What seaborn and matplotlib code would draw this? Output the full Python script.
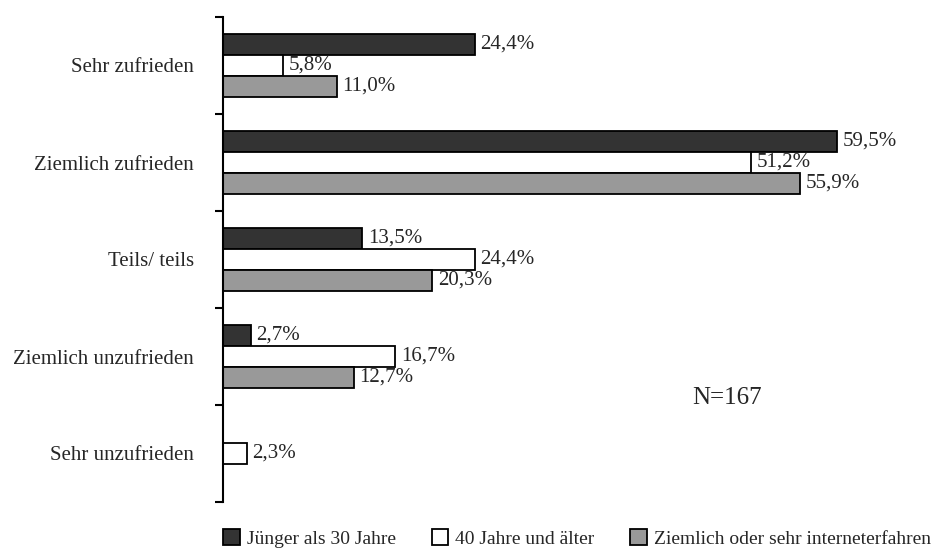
import numpy as np
import pandas as pd
import seaborn as sns
import matplotlib.pyplot as plt

# data
categories = ['Sehr zufrieden', 'Ziemlich zufrieden', 'Teils/ teils',
              'Ziemlich unzufrieden', 'Sehr unzufrieden']
series = ['Jünger als 30 Jahre', '40 Jahre und älter',
          'Ziemlich oder sehr interneterfahren']
young = [24.4, 59.5, 13.5, 2.7, np.nan]
old = [5.8, 51.2, 24.4, 16.7, 2.3]
experienced = [11.0, 55.9, 20.3, 12.7, np.nan]
colors = ['#333333', '#ffffff', '#999999']

rows = []
for name, vals in zip(series, [young, old, experienced]):
    for cat, v in zip(categories, vals):
        rows.append({'Kategorie': cat, 'Gruppe': name, 'Wert': v})
df = pd.DataFrame(rows).dropna()

sns.set_style('ticks')
plt.rcParams['font.family'] = ['Liberation Serif', 'DejaVu Serif']

fig = plt.figure(figsize=(9.38, 5.5), dpi=100)
ax = fig.add_axes([223 / 938, 48 / 550, (920 - 223) / 938, (502 - 17) / 550])

sns.barplot(data=df, y='Kategorie', x='Wert', hue='Gruppe', order=categories,
            hue_order=series, palette=colors, orient='h', width=0.65,
            edgecolor='black', linewidth=1.3, saturation=1, ax=ax)

for cont in ax.containers:
    labels = [f'{w:.1f}%'.replace('.', ',') for w in cont.datavalues]
    ax.bar_label(cont, labels=labels, padding=4, fontsize=15)

ax.set_xlim(0, (920 - 223) / 10.32)
ax.set_ylim(4.5, -0.5)
ax.set_xlabel('')
ax.set_ylabel('')
ax.set_xticks([])
for s in ['top', 'right', 'bottom']:
    ax.spines[s].set_visible(False)
ax.spines['left'].set_linewidth(1.5)
ax.spines['left'].set_color('black')

# category labels without marks, boundary ticks as minor ticks
ax.set_yticks(range(len(categories)))
ax.set_yticklabels(categories, fontsize=15)
ax.tick_params(axis='y', which='major', length=0, pad=21)
ax.set_yticks(np.arange(-0.5, len(categories), 1.0), minor=True)
ax.tick_params(axis='y', which='minor', length=6, width=1.5, color='black')

ax.text(45.5, 3.43, 'N=167', fontsize=18, va='center', ha='left')

ax.legend(loc='upper center', bbox_to_anchor=(0.508, -0.02), ncol=3,
          frameon=False, fontsize=14, handlelength=0.85, handleheight=0.85,
          handletextpad=0.35, columnspacing=1.85)

fig.savefig('out.png', dpi=100)
